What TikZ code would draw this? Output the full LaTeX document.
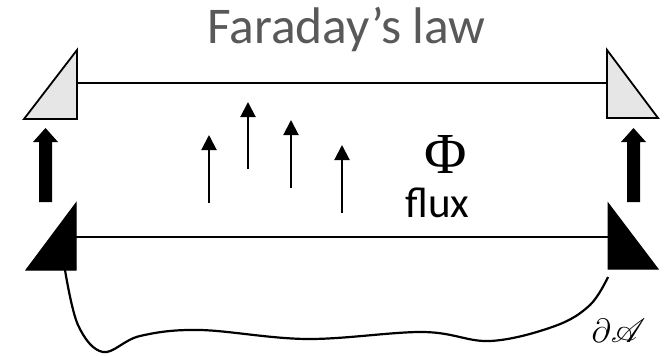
\documentclass[tikz,border=0pt]{standalone}
\usepackage{fontspec}
\setmainfont{Carlito}
\newfontfamily\phifont{Liberation Serif}
\usepackage{mathrsfs}
\usetikzlibrary{arrows.meta}
\definecolor{titlegray}{HTML}{595959}
\definecolor{prismgray}{HTML}{E6E6E6}
\begin{document}
\begin{tikzpicture}[x=1pt,y=-1pt,
  prismlight/.style={draw=black,line width=1.8pt,fill=prismgray,line join=miter},
  prismdark/.style={draw=black,line width=1pt,fill=black},
  beam/.style={line width=2.4pt},
  fluxarrow/.style={line width=2pt,-{Triangle[width=15pt,length=15pt]}},
  bigarrow/.style={fill=black},
  loopline/.style={line width=2.2pt}]
\useasboundingbox (0,0) rectangle (664,356);
% title
\node[anchor=base west,text=titlegray,font=\fontsize{51.5}{58}\selectfont,inner sep=0pt] (title) at (207,43) {Faraday’s law};
% top prisms
\draw[prismlight] (24,119) -- (77,50) -- (77,119) -- cycle;
\draw[prismlight] (607,50) -- (607,118) -- (658,118) -- cycle;
\coordinate (tl) at (77,83);
\coordinate (tr) at (607,83);
\draw[beam] (tl) -- (tr);
% bottom prisms
\draw[prismdark] (26,270) -- (76,203) -- (76,270) -- cycle;
\draw[prismdark] (608,203) -- (608,269) -- (658,269) -- cycle;
\coordinate (bl) at (76,237);
\coordinate (br) at (608,237);
\draw[beam] (bl) -- (br);
% thick arrows
\path[bigarrow] (39,202) -- (39,142) -- (33,142) -- (45.5,128) -- (58,142) -- (52,142) -- (52,202) -- cycle;
\path[bigarrow] (627,202) -- (627,142) -- (621,142) -- (633.5,128) -- (646,142) -- (640,142) -- (640,202) -- cycle;
% flux arrows
\coordinate (a1s) at (209,203); \coordinate (a1e) at (209,135);
\coordinate (a2s) at (248,169); \coordinate (a2e) at (248,102);
\coordinate (a3s) at (291,188); \coordinate (a3e) at (291,120);
\coordinate (a4s) at (342,213); \coordinate (a4e) at (342,145);
\draw[fluxarrow] (a1s) -- (a1e);
\draw[fluxarrow] (a2s) -- (a2e);
\draw[fluxarrow] (a3s) -- (a3e);
\draw[fluxarrow] (a4s) -- (a4e);
% labels
\node[inner sep=0pt,font=\phifont\fontsize{58}{64}\selectfont] (phi) at (446,155) {Φ};
\node[anchor=base,inner sep=0pt,font=\fontsize{43}{48}\selectfont] (flux) at (437.5,217) {flux};
\node[inner sep=0pt,scale=1.35,font=\fontsize{24.88}{30}\selectfont] (bd) at (618.5,331) {$\partial\mathscr{A}$};
% boundary curve
\draw[loopline] plot[smooth,tension=0.6] coordinates {(65,270) (78,325) (103,352) (140,336) (200,330) (307,339) (423,332) (490,341) (555,326) (590,305) (608,277)};
\end{tikzpicture}
\end{document}
